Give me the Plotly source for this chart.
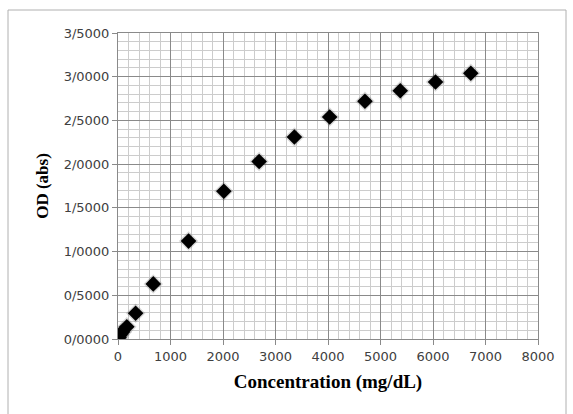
import plotly.graph_objects as go

concentration = [0, 21, 42, 84, 168, 336, 672, 1344, 2016, 2688, 3360, 4032, 4704, 5376, 6048, 6720]
od = [0.00, 0.02, 0.05, 0.08, 0.14, 0.295, 0.63, 1.12, 1.69, 2.03, 2.31, 2.54, 2.72, 2.84, 2.94, 3.04]

y_tickvals = [0, 0.5, 1.0, 1.5, 2.0, 2.5, 3.0, 3.5]
y_ticktext = ["0/0000", "0/5000", "1/0000", "1/5000", "2/0000", "2/5000", "3/0000", "3/5000"]
x_tickvals = [0, 1000, 2000, 3000, 4000, 5000, 6000, 7000, 8000]

fig = go.Figure()
# shadow layer
fig.add_trace(go.Scatter(
    x=concentration, y=od, mode="markers",
    marker=dict(symbol="diamond", size=15, color="rgba(0,0,0,0.15)", line=dict(width=0)),
    hoverinfo="skip", showlegend=False,
))
fig.add_trace(go.Scatter(
    x=concentration, y=od, mode="markers",
    marker=dict(symbol="diamond", size=12, color="black", line=dict(width=0)),
    showlegend=False,
))

fig.update_layout(
    width=573, height=414,
    margin=dict(l=118, r=35, t=33, b=75),
    paper_bgcolor="white", plot_bgcolor="white",
    font=dict(family="DejaVu Sans", size=13, color="#404040"),
    xaxis=dict(
        range=[0, 8000], tickvals=x_tickvals, ticktext=[str(v) for v in x_tickvals],
        showgrid=True, gridcolor="#8a8a8a", gridwidth=1,
        minor=dict(dtick=200, showgrid=True, gridcolor="#cccccc", gridwidth=1),
        zeroline=False, showline=True, linecolor="#8a8a8a", mirror=True,
        ticks="outside", ticklen=5, tickcolor="#8a8a8a",
        tickfont=dict(family="DejaVu Sans", size=13, color="#404040"),
        title=dict(text="<b>Concentration (mg/dL)</b>",
                   font=dict(family="Liberation Serif", size=19, color="black"), standoff=12),
    ),
    yaxis=dict(
        range=[0, 3.5], tickvals=y_tickvals, ticktext=y_ticktext,
        showgrid=True, gridcolor="#8a8a8a", gridwidth=1,
        minor=dict(dtick=0.1, showgrid=True, gridcolor="#cccccc", gridwidth=1),
        zeroline=False, showline=True, linecolor="#8a8a8a", mirror=True,
        ticks="outside", ticklen=5, tickcolor="#8a8a8a",
        tickfont=dict(family="DejaVu Sans", size=13, color="#404040"),
        title=dict(text="<b>OD (abs)</b>",
                   font=dict(family="Liberation Serif", size=17, color="black"), standoff=10),
    ),
    shapes=[
        dict(type="rect", xref="paper", yref="paper",
             x0=(8 - 118) / 420, x1=(566 - 118) / 420,
             y0=(339 - 420) / 306, y1=(339 - 10) / 306,
             line=dict(color="#b0b0b0", width=1), layer="below"),
    ],
)

fig.write_html("out.html")
